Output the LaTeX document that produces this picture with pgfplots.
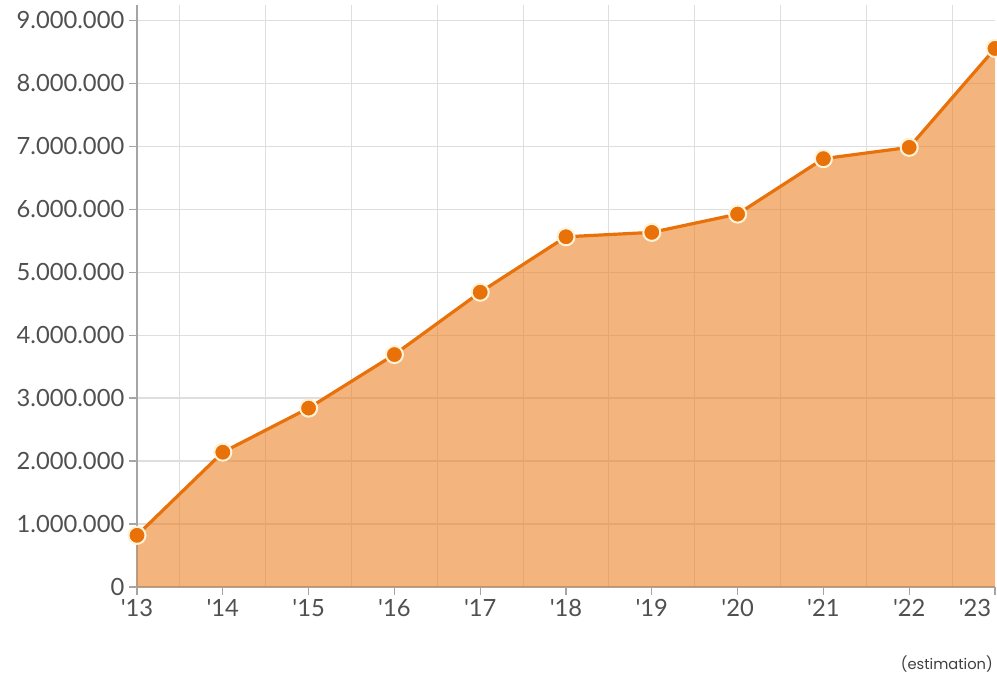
\documentclass[border=0pt]{standalone}
\usepackage{fontspec}
\setmainfont{Lato}
\newfontfamily\estfont{Poppins}
\usepackage{pgfplots}
\pgfplotsset{compat=1.18}
\definecolor{lineor}{RGB}{232,113,10}
\definecolor{fillor}{RGB}{235,130,38}
\definecolor{gridc}{RGB}{222,222,222}
\definecolor{txt}{RGB}{80,80,80}
\definecolor{axc}{RGB}{165,165,165}
\definecolor{mkborder}{RGB}{255,243,215}
\pgfplotstableread{
x y
13 820000
14 2140000
15 2840000
16 3690000
17 4680000
18 5560000
19 5630000
20 5920000
21 6800000
22 6980000
23 8550000
}\datatable
\begin{document}
\begin{tikzpicture}[x=0.75pt,y=0.75pt]
\begin{axis}[
  scale only axis, width=643.5pt, height=436.5pt,
  xmin=13, xmax=23, ymin=0, ymax=9240000,
  axis x line*=bottom, axis y line*=left,
  axis line style={axc, line width=1pt, -},
  xtick={13,...,22},
  xticklabels={\textquotesingle13,\textquotesingle14,\textquotesingle15,\textquotesingle16,\textquotesingle17,\textquotesingle18,\textquotesingle19,\textquotesingle20,\textquotesingle21,\textquotesingle22},
  extra x ticks={23},
  extra x tick labels={\textquotesingle23},
  extra x tick style={grid=none, xticklabel style={xshift=-15pt}},
  minor xtick={13.5,14.5,...,22.5},
  xminorgrids=true, xmajorgrids=false, ymajorgrids=true,
  ytick={0,1000000,2000000,3000000,4000000,5000000,6000000,7000000,8000000,9000000},
  yticklabels={0,1.000.000,2.000.000,3.000.000,4.000.000,5.000.000,6.000.000,7.000.000,8.000.000,9.000.000},
  tick align=outside, major tick length=6pt, minor tick length=0pt,
  tick style={axc, line width=0.8pt},
  grid style={gridc, line width=0.8pt},
  minor grid style={gridc, line width=0.8pt},
  ticklabel style={font=\fontsize{17.8}{20}\selectfont, text=txt},
  scaled y ticks=false,
]
\addplot[draw=none, fill=fillor, fill opacity=0.6, forget plot] table[x=x,y=y]{\datatable} \closedcycle;
\addplot[lineor, line width=2.4pt, mark=*, mark size=6.4pt,
  mark options={fill=lineor, draw=mkborder, line width=1.5pt}] table[x=x,y=y]{\datatable};
\end{axis}
\node[anchor=east, inner sep=0pt, font=\estfont\fontsize{11}{12}\selectfont, text=black!75] at ([shift={(-2,-77)}]current axis.south east) {(estimation)};
\pgfresetboundingbox
\path[use as bounding box] ([shift={(-137,-88)}]current axis.south west) rectangle ([shift={(2,5)}]current axis.north east);
\end{tikzpicture}
\end{document}
